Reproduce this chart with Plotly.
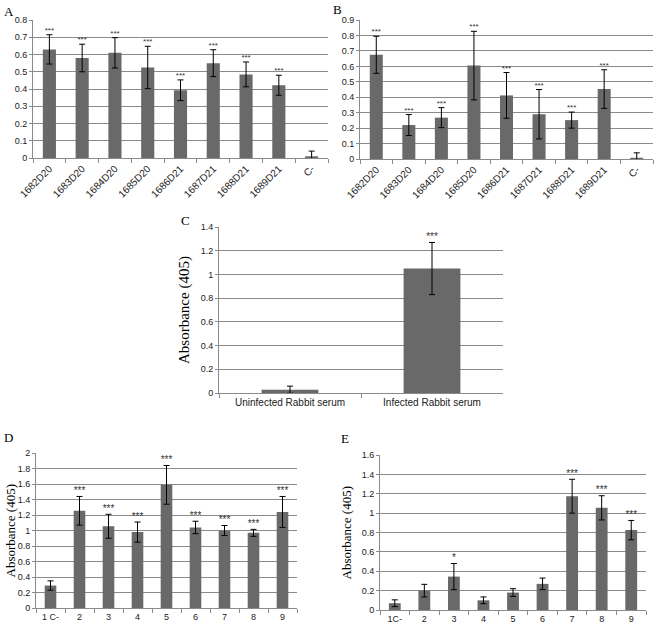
import plotly.graph_objects as go

W, H = 656, 631

# ---------------- data ----------------
a_cats = ["1682D20", "1683D20", "1684D20", "1685D20", "1686D21", "1687D21", "1688D21", "1689D21", "C-"]
a_vals = [0.63, 0.58, 0.61, 0.525, 0.393, 0.55, 0.485, 0.422, 0.01]
a_errs = [0.085, 0.08, 0.088, 0.123, 0.06, 0.078, 0.072, 0.058, 0.03]
a_stars = ["***"] * 8 + [""]

b_cats = ["1682D20", "1683D20", "1684D20", "1685D20", "1686D21", "1687D21", "1688D21", "1689D21", "C-"]
b_vals = [0.675, 0.22, 0.268, 0.605, 0.412, 0.29, 0.252, 0.453, 0.008]
b_errs = [0.12, 0.068, 0.065, 0.222, 0.148, 0.16, 0.052, 0.125, 0.032]
b_stars = ["***"] * 8 + [""]

c_cats = ["Uninfected Rabbit serum", "Infected Rabbit serum"]
c_vals = [0.028, 1.05]
c_errs = [0.03, 0.22]
c_stars = ["", "***"]

d_cats = ["1 C-", "2", "3", "4", "5", "6", "7", "8", "9"]
d_vals = [0.29, 1.255, 1.055, 0.98, 1.59, 1.04, 1.0, 0.97, 1.24]
d_errs = [0.06, 0.185, 0.155, 0.13, 0.25, 0.08, 0.065, 0.045, 0.2]
d_stars = [""] + ["***"] * 8

e_cats = ["1C-", "2", "3", "4", "5", "6", "7", "8", "9"]
e_vals = [0.07, 0.2, 0.345, 0.1, 0.18, 0.27, 1.175, 1.055, 0.825]
e_errs = [0.035, 0.065, 0.135, 0.035, 0.04, 0.06, 0.175, 0.125, 0.1]
e_stars = ["", "", "*", "", "", "", "***", "***", "***"]

# ---------------- layout geometry (pixels) ----------------
panels = [
    # cats, vals, errs, stars, x0, x1, ytop, ybot, ymax, dtick, angle, label, lblpos, ytitle
    (a_cats, a_vals, a_errs, a_stars, 33, 328, 20, 158, 0.8, 0.1, -45, "A", (2, 2), None),
    (b_cats, b_vals, b_errs, b_stars, 360, 653, 20, 159, 0.9, 0.1, -45, "B", (331, 0), None),
    (c_cats, c_vals, c_errs, c_stars, 219, 503, 227, 393, 1.4, 0.2, 0, "C", (179, 211), (184, 15)),
    (d_cats, d_vals, d_errs, d_stars, 36, 297, 453, 608, 2.0, 0.2, 0, "D", (2, 428), (10, 13)),
    (e_cats, e_vals, e_errs, e_stars, 380, 646, 455, 610, 1.6, 0.2, 0, "E", (339, 429), (346, 13)),
]

BAR = "#696969"
GRID = "#8a8a8a"
TICKFONT = dict(family="Liberation Sans, Arial, sans-serif", size=9, color="#222")
SERIF = "Liberation Serif, Times New Roman, serif"

fig = go.Figure()
layout = dict(
    width=W, height=H, margin=dict(l=0, r=0, t=0, b=0, autoexpand=False),
    paper_bgcolor="white", plot_bgcolor="white", showlegend=False,
    bargap=0.6,
)
annotations = []

for i, (cats, vals, errs, stars, x0, x1, yt, yb, ymax, dt, ang, lbl, lpos, ytitle) in enumerate(panels):
    n = "" if i == 0 else str(i + 1)
    xa, ya = "x" + n, "y" + n
    fig.add_trace(go.Bar(
        x=cats, y=vals, xaxis=xa, yaxis=ya, marker=dict(color=BAR, line=dict(width=0)),
        error_y=dict(type="data", array=errs, visible=True, color="black", thickness=1, width=3),
        hoverinfo="skip",
    ))
    star_fs = 8 if lbl in ("A", "B") else 10
    fig.add_trace(go.Scatter(
        x=cats, y=[v + e for v, e in zip(vals, errs)], text=stars, mode="text",
        textposition="top center", xaxis=xa, yaxis=ya,
        textfont=dict(family="Liberation Sans, Arial", size=star_fs, color="#333"),
        cliponaxis=False, hoverinfo="skip",
    ))
    layout["xaxis" + n] = dict(
        domain=[x0 / W, x1 / W], anchor=ya, type="category", automargin=False,
        showline=True, linecolor=GRID, linewidth=1,
        ticks="outside", tickson="boundaries", ticklen=4, tickcolor=GRID,
        tickangle=ang, tickfont=dict(TICKFONT, size=10) if lbl in ("A", "B", "C") else TICKFONT,
        showgrid=False, fixedrange=True,
    )
    layout["yaxis" + n] = dict(
        domain=[1 - yb / H, 1 - yt / H], anchor=xa, range=[0, ymax * 1.0005], dtick=dt, tick0=0,
        automargin=False,
        showline=True, linecolor=GRID, linewidth=1,
        ticks="outside", ticklen=3, tickcolor=GRID,
        showgrid=True, gridcolor=GRID, gridwidth=1, zeroline=False,
        tickfont=TICKFONT, fixedrange=True,
        tickformat="~g",
    )
    annotations.append(dict(
        text=lbl, x=lpos[0] / W, y=1 - lpos[1] / H, xref="paper", yref="paper",
        xanchor="left", yanchor="top", showarrow=False,
        font=dict(family=SERIF, size=13, color="black"),
    ))
    if ytitle:
        annotations.append(dict(
            text="Absorbance (405)", x=ytitle[0] / W, y=1 - ((yt + yb) / 2) / H,
            xref="paper", yref="paper", xanchor="center", yanchor="middle",
            textangle=-90, showarrow=False,
            font=dict(family=SERIF, size=ytitle[1], color="black"),
        ))

layout["annotations"] = annotations
fig.update_layout(**layout)
fig.write_html(
    "out.html",
    config={"displayModeBar": False, "staticPlot": True},
    post_script="document.body.style.margin='0';document.body.style.overflow='hidden';",
)
